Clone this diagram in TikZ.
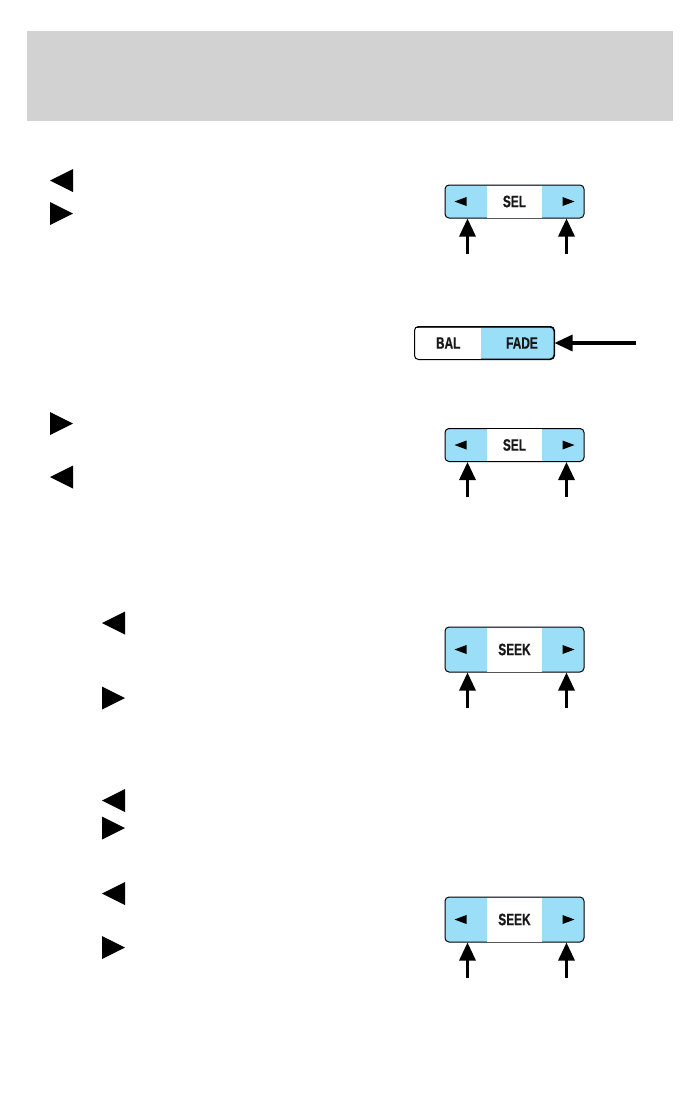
\documentclass[tikz,border=0pt]{standalone}
\usepackage{fontspec}
\newfontfamily\btnfont[FakeStretch=0.72, BoldFeatures={FakeBold=0.6}]{Liberation Sans}
\usetikzlibrary{arrows.meta, positioning, calc}
\definecolor{keyblue}{RGB}{154,222,248}
\definecolor{headgray}{RGB}{210,210,210}

\begin{document}
\begin{tikzpicture}[
    x=1pt, y=-1pt,
    btn/.style={draw, line width=1pt, rounded corners=4pt, fill=keyblue, minimum width=139pt, inner sep=0pt},
    keytext/.style={font=\btnfont\bfseries\fontsize{16.5}{17}\selectfont, text=black!90},
    midpart/.style={keytext, fill=white, minimum width=55pt, inner sep=0pt},
    keyarrow/.style={-{Triangle[length=18pt, width=16pt]}, line width=3.2pt}
]
\useasboundingbox (0,0) rectangle (699,1095);
% header band
\fill[headgray] (27,31) rectangle (673,121);

% bullet glyphs in the text column
\foreach \x/\y/\d in {50/180.5/-1, 50/213.5/1, 50/423.5/1, 50/477/-1,
                      102/623/-1, 102/698/1, 102/800.5/-1, 102/828/1, 102/893.5/-1, 102/947.5/1}
  \fill ({\x+11.5+11.5*\d},\y) -- ++(-23*\d,-11.5) -- ++(0,23) -- cycle;

% SEL keys and SEEK keys
\foreach \name/\y/\h/\lbl in {selA/201.5/33/SEL, selB/445/33/SEL, seekA/649.5/45/SEEK, seekB/919.5/45/SEEK} {
  \node[btn, minimum height=\h pt] (\name) at (514.5,\y) {};
  \node[midpart, minimum height=\h pt-1pt] (\name m) at (\name.center) {\lbl};
  \fill ([xshift=10pt]\name.west) -- ++(12,-4.5) -- ++(0,9) -- cycle;
  \fill ([xshift=-10pt]\name.east) -- ++(-12,-4.5) -- ++(0,9) -- cycle;
  \coordinate (\name l) at ($(\name.south west)+(23,35)$);
  \coordinate (\name r) at ($(\name.south east)+(-18,35)$);
  \draw[keyarrow] (\name l) -- (\name l |- \name.south);
  \draw[keyarrow] (\name r) -- (\name r |- \name.south);
}

% BAL / FADE key
\node[btn, minimum height=32pt] (fade) at (484.5,343) {};
\node[midpart, minimum width=66pt, minimum height=31pt, anchor=west] (bal) at ([xshift=0.5pt]fade.west) {BAL};
\node[keytext] (fadetxt) at (522,343) {FADE};
\draw[line width=1pt, rounded corners=4pt] (fade.south west) rectangle (fade.north east);
\coordinate (fadein) at (636,343);
\draw[keyarrow] (fadein) -- (fade.east);
\end{tikzpicture}
\end{document}
